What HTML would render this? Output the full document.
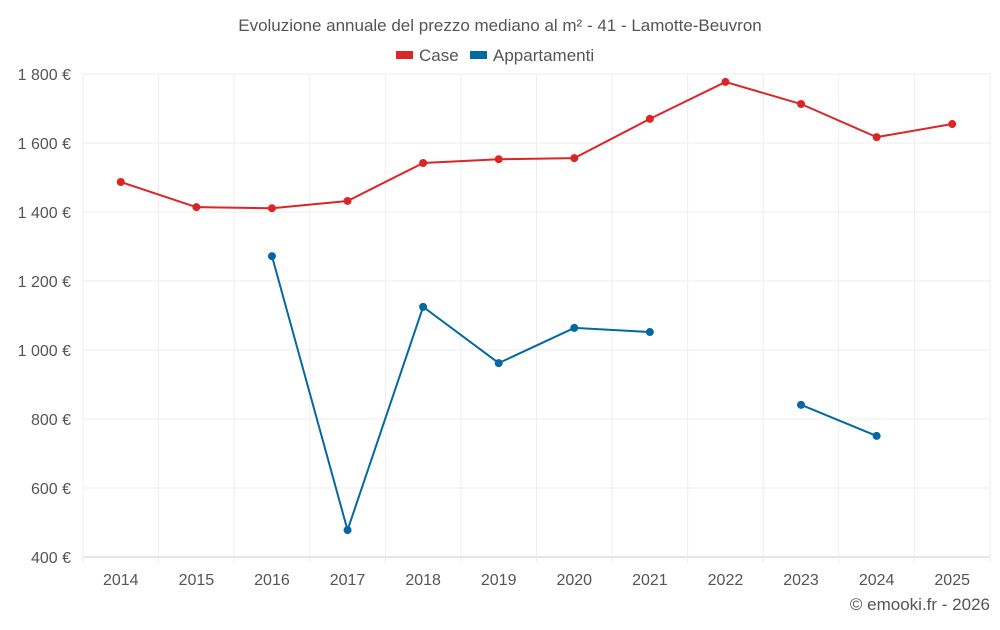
<!DOCTYPE html>
<html><head><meta charset="utf-8"><style>
body{margin:0;background:#fff;font-family:"Liberation Sans",sans-serif;}
svg text{font-family:"Liberation Sans",sans-serif;fill:#555;}
</style></head><body>
<svg id="chart" width="1000" height="625" viewBox="0 0 1000 625">
<text x="500" y="31" text-anchor="middle" font-size="17">Evoluzione annuale del prezzo mediano al m² - 41 - Lamotte-Beuvron</text>
<g>
<g><rect x="396" y="51" width="17" height="8" fill="#dc2626"/><text x="419" y="61" font-size="17">Case</text></g>
<g><rect x="470" y="51" width="17" height="8" fill="#0369a1"/><text x="493" y="61" font-size="17">Appartamenti</text></g>
</g>
<g id="grid"></g>
<g id="axes"></g>
<g id="series"></g>
<text x="990" y="610" text-anchor="end" font-size="17">© emooki.fr - 2026</text>
</svg>
<script>
const years=["2014","2015","2016","2017","2018","2019","2020","2021","2022","2023","2024","2025"];
const caseVals=[1487,1414,1411,1432,1542,1553,1556,1670,1777,1713,1617,1655];
const apptVals=[null,null,1272,478,1125,962,1064,1052,null,841,751,null];
const yTicks=[400,600,800,1000,1200,1400,1600,1800];
const yTickLabels=["400 €","600 €","800 €","1 000 €","1 200 €","1 400 €","1 600 €","1 800 €"];
const L=83,R=990,T=74,B=557,yMin=400,yMax=1800;
const NS="http://www.w3.org/2000/svg";
const step=(R-L)/years.length;
function xs(i){return L+step*(i+0.5);}
function ys(v){return B-(v-yMin)/(yMax-yMin)*(B-T);}
function mk(tag,attrs,parent){const e=document.createElementNS(NS,tag);for(const k in attrs)e.setAttribute(k,attrs[k]);parent.appendChild(e);return e;}
const grid=document.getElementById('grid'),axes=document.getElementById('axes'),series=document.getElementById('series');
yTicks.forEach((v,i)=>{
 const l=mk('line',{x1:L,x2:R,y1:ys(v),y2:ys(v),stroke:i==0?'#ccc':'#eee','stroke-width':1},grid);
 
 
 const t=mk('text',{x:L-12,y:ys(v)+6,'text-anchor':'end','font-size':16},axes);
 t.textContent=yTickLabels[i];
 
 
});
for(let i=0;i<=years.length;i++){
 const x=L+step*i;
 const l=mk('line',{x1:x,x2:x,y1:T,y2:B+6,stroke:'#eee','stroke-width':1},grid);
 
 
}
years.forEach((y,i)=>{
 const t=mk('text',{x:xs(i),y:585,'text-anchor':'middle','font-size':16},axes);
 t.textContent=y;
 
 
});
function draw(vals,color,name){
 let seg=[];
 const segs=[];
 vals.forEach((v,i)=>{if(v==null){if(seg.length)segs.push(seg);seg=[];}else seg.push([xs(i),ys(v)]);});
 if(seg.length)segs.push(seg);
 segs.forEach(s=>{
  const p=mk('polyline',{points:s.map(q=>q.join(',')).join(' '),fill:'none',stroke:color,'stroke-width':2},series);
  
  
 });
 vals.forEach((v,i)=>{if(v==null)return;
  const c=mk('circle',{cx:xs(i),cy:ys(v),r:4,fill:color},series);
  
  
 });
}
draw(caseVals,'#dc2626','case');
draw(apptVals,'#0369a1','appartamenti');
</script>
</body></html>
